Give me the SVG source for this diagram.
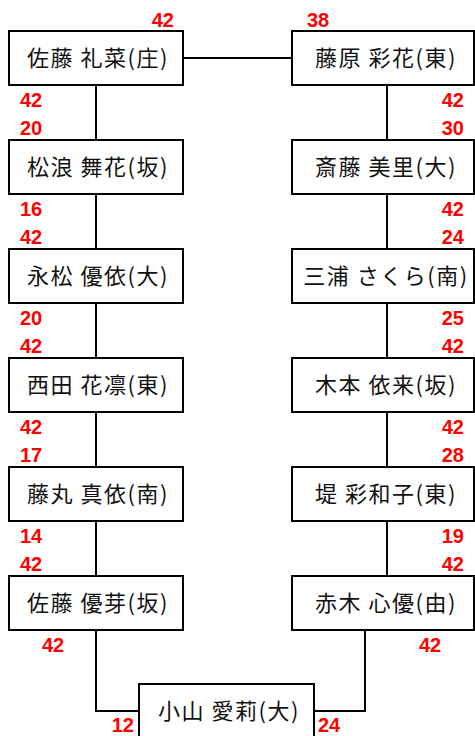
<svg xmlns="http://www.w3.org/2000/svg" width="475" height="736" viewBox="0 0 475 736">
<style>
.box{fill:#fff;stroke:#000;stroke-width:2}
.name{font-family:"Noto Sans CJK JP","Liberation Sans",sans-serif;font-size:22px;fill:#111;text-anchor:middle;letter-spacing:1.5px}
.sc{font-family:"Liberation Sans",Arial,sans-serif;font-size:20px;font-weight:bold;fill:#ff0000}
.r{text-anchor:end}
.conn{fill:none;stroke:#000;stroke-width:2}
</style>
<rect width="475" height="736" fill="#fff"/>
<g id="connectors">
<line class="conn" x1="183" y1="58" x2="292" y2="58"/>
<line class="conn" x1="96" y1="85" x2="96" y2="140"/>
<line class="conn" x1="96" y1="194" x2="96" y2="249"/>
<line class="conn" x1="96" y1="303" x2="96" y2="358"/>
<line class="conn" x1="96" y1="412" x2="96" y2="467"/>
<line class="conn" x1="96" y1="521" x2="96" y2="576"/>
<line class="conn" x1="387" y1="85" x2="387" y2="140"/>
<line class="conn" x1="387" y1="194" x2="387" y2="249"/>
<line class="conn" x1="387" y1="303" x2="387" y2="358"/>
<line class="conn" x1="387" y1="412" x2="387" y2="467"/>
<line class="conn" x1="387" y1="521" x2="387" y2="576"/>
<path class="conn" d="M96 630V711H139"/>
<path class="conn" d="M365 630V711H314"/>
</g>
<g id="n1"><rect class="box" x="9" y="31" width="174" height="54"/><text class="name" x="98" y="66">佐藤 礼菜(庄)</text></g>
<g id="n2"><rect class="box" x="9" y="140" width="174" height="54"/><text class="name" x="98" y="175">松浪 舞花(坂)</text></g>
<g id="n3"><rect class="box" x="9" y="249" width="174" height="54"/><text class="name" x="98" y="284">永松 優依(大)</text></g>
<g id="n4"><rect class="box" x="9" y="358" width="174" height="54"/><text class="name" x="98" y="393">西田 花凛(東)</text></g>
<g id="n5"><rect class="box" x="9" y="467" width="174" height="54"/><text class="name" x="98" y="502">藤丸 真依(南)</text></g>
<g id="n6"><rect class="box" x="9" y="576" width="174" height="54"/><text class="name" x="98" y="611">佐藤 優芽(坂)</text></g>
<g id="m1"><rect class="box" x="292" y="31" width="182" height="54"/><text class="name" x="386" y="66">藤原 彩花(東)</text></g>
<g id="m2"><rect class="box" x="292" y="140" width="182" height="54"/><text class="name" x="386" y="175">斎藤 美里(大)</text></g>
<g id="m3"><rect class="box" x="292" y="249" width="182" height="54"/><text class="name" x="386" y="284">三浦 さくら(南)</text></g>
<g id="m4"><rect class="box" x="292" y="358" width="182" height="54"/><text class="name" x="386" y="393">木本 依来(坂)</text></g>
<g id="m5"><rect class="box" x="292" y="467" width="182" height="54"/><text class="name" x="386" y="502">堤 彩和子(東)</text></g>
<g id="m6"><rect class="box" x="292" y="576" width="182" height="54"/><text class="name" x="386" y="611">赤木 心優(由)</text></g>
<g id="final"><rect class="box" x="139" y="684" width="175" height="54"/><text class="name" x="229" y="719">小山 愛莉(大)</text></g>
<g id="scores">
<text class="sc r" x="174" y="27">42</text>
<text class="sc" x="307" y="27">38</text>
<text class="sc" x="20" y="107">42</text>
<text class="sc" x="20" y="135">20</text>
<text class="sc" x="20" y="216">16</text>
<text class="sc" x="20" y="244">42</text>
<text class="sc" x="20" y="325">20</text>
<text class="sc" x="20" y="353">42</text>
<text class="sc" x="20" y="434">42</text>
<text class="sc" x="20" y="462">17</text>
<text class="sc" x="20" y="543">14</text>
<text class="sc" x="20" y="571">42</text>
<text class="sc r" x="464" y="107">42</text>
<text class="sc r" x="464" y="135">30</text>
<text class="sc r" x="464" y="216">42</text>
<text class="sc r" x="464" y="244">24</text>
<text class="sc r" x="464" y="325">25</text>
<text class="sc r" x="464" y="353">42</text>
<text class="sc r" x="464" y="434">42</text>
<text class="sc r" x="464" y="462">28</text>
<text class="sc r" x="464" y="543">19</text>
<text class="sc r" x="464" y="571">42</text>
<text class="sc" x="42" y="652">42</text>
<text class="sc" x="419" y="652">42</text>
<text class="sc r" x="134" y="732">12</text>
<text class="sc" x="318" y="732">24</text>
</g>
</svg>
